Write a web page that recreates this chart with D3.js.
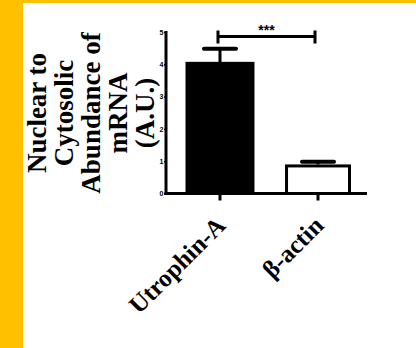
<!DOCTYPE html>
<html><head><meta charset="utf-8">
<script src="https://cdn.jsdelivr.net/npm/d3@7"></script>
<style>html,body{margin:0;padding:0;background:#FFC000;}svg{display:block;}</style>
</head><body>
<script>
const categories = ["Utrophin-A", "β-actin"];
const values = [4.03, 0.9];
const errors = [0.45, 0.08];
const yTicks = [0, 1, 2, 3, 4, 5];
const titleLines = ["Nuclear to", "Cytosolic", "Abundance of", "mRNA", "(A.U.)"];
const sigLabel = "***";

const W = 416, H = 348;
const svg = d3.select("body").append("svg").attr("width", W).attr("height", H);
svg.append("rect").attr("width", W).attr("height", H).attr("fill", "#FFC000");
svg.append("rect").attr("x", 23).attr("y", 3).attr("width", W - 23).attr("height", H - 3).attr("fill", "#fff");

const y = d3.scaleLinear().domain([0, 5]).range([193.5, 32]);
const x = d3.scaleBand().domain(categories).range([167.4, 370.6]).paddingInner(0.327).paddingOuter(0.2);
const bw = x.bandwidth();

// bars
svg.selectAll("rect.bar").data(categories).join("rect")
  .attr("class", "bar")
  .attr("x", (d, i) => x(d) + (i === 0 ? 0 : 1.5))
  .attr("y", (d, i) => y(values[i]) + (i === 0 ? 0 : 1.5))
  .attr("width", (d, i) => i === 0 ? bw : bw - 3)
  .attr("height", (d, i) => y(0) - y(values[i]) - (i === 0 ? 0 : 1.5))
  .attr("fill", (d, i) => i === 0 ? "#000" : "#fff")
  .attr("stroke", "#000").attr("stroke-width", 3);

// error bars
categories.forEach((c, i) => {
  const cx = x(c) + bw / 2;
  svg.append("line").attr("x1", cx).attr("x2", cx)
    .attr("y1", y(values[i])).attr("y2", y(values[i] + errors[i]))
    .attr("stroke", "#000").attr("stroke-width", 3);
  svg.append("line").attr("x1", cx - 16).attr("x2", cx + 16)
    .attr("y1", y(values[i] + errors[i])).attr("y2", y(values[i] + errors[i]))
    .attr("stroke", "#000").attr("stroke-width", 4).attr("stroke-linecap", "round");
});

// y axis
const yAxis = svg.append("g").attr("transform", "translate(166,0)")
  .call(d3.axisLeft(y).tickValues(yTicks).tickSize(2).tickFormat(d3.format("d")));
yAxis.select(".domain").remove();
yAxis.selectAll(".tick line").attr("stroke", "#000").attr("stroke-width", 1.5);
yAxis.selectAll(".tick text").attr("font-family", "Arial, sans-serif").attr("font-size", 7)
  .attr("font-weight", "bold").attr("x", -2.5).attr("fill", "#000");
svg.append("line").attr("x1", 166).attr("x2", 166).attr("y1", y(5) - 1).attr("y2", y(0) + 1.5)
  .attr("stroke", "#000").attr("stroke-width", 3);

// x axis
svg.append("line").attr("x1", 164.5).attr("x2", 367).attr("y1", y(0)).attr("y2", y(0))
  .attr("stroke", "#000").attr("stroke-width", 3);
const xAxis = svg.append("g").attr("transform", `translate(0,${y(0)})`)
  .call(d3.axisBottom(x).tickSize(7).tickFormat(""));
xAxis.select(".domain").remove();
xAxis.selectAll(".tick line").attr("stroke", "#000").attr("stroke-width", 3);

// x labels
categories.forEach((c, i) => {
  const cx = x(c) + bw / 2;
  svg.append("text")
    .attr("transform", `translate(${cx + 7},${227}) rotate(-45)`)
    .attr("text-anchor", "end")
    .attr("font-family", "Liberation Serif, Times New Roman, serif")
    .attr("font-weight", "bold").attr("font-size", 25).attr("fill", "#000")
    .text(c);
});

// y title
const tg = svg.append("g").attr("transform", "translate(0,113)");
titleLines.forEach((t, i) => {
  tg.append("text")
    .attr("transform", `translate(${46 + i * 27},0) rotate(-90)`)
    .attr("text-anchor", "middle")
    .attr("font-family", "Liberation Serif, Times New Roman, serif")
    .attr("font-weight", "bold").attr("font-size", 27).attr("fill", "#000")
    .text(t);
});

// significance bracket
const x1 = x(categories[0]) + bw / 2 - 2, x2 = x(categories[1]) + bw / 2 - 3;
const by = y(4.86);
svg.append("path")
  .attr("d", `M${x1},${by - 6}V${by + 7}M${x1},${by}H${x2}M${x2},${by - 6}V${by + 7}`)
  .attr("fill", "none").attr("stroke", "#000").attr("stroke-width", 3);
svg.append("text").attr("x", (x1 + x2) / 2).attr("y", by - 2)
  .attr("text-anchor", "middle").attr("font-family", "Arial, sans-serif")
  .attr("font-weight", "bold").attr("font-size", 14).attr("fill", "#000").text(sigLabel);
</script>
</body></html>
